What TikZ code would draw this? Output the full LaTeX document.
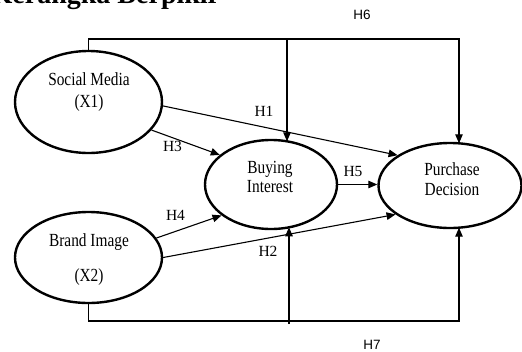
\documentclass[tikz,border=0pt]{standalone}
\usepackage{fontspec}
\setmainfont{Liberation Serif}
\newfontfamily\ellfont{Liberation Serif}[FakeStretch=0.83]
\newfontfamily\sanslab{Liberation Sans}
\usetikzlibrary{arrows.meta,shapes.geometric}
\begin{document}
\begin{tikzpicture}[x=1pt,y=-1pt,
 latent/.style={ellipse,draw,line width=2.4pt,inner sep=0pt},
 conn/.style={line width=1.1pt},
 arr/.style={conn,-{Triangle[length=9pt,width=7.5pt]}},
 etext/.style={anchor=base,inner sep=0pt,font=\ellfont\fontsize{18.5}{20}\selectfont},
 hlab/.style={anchor=base,inner sep=0pt,font=\fontsize{15.5}{17}\selectfont},
 slab/.style={anchor=base,inner sep=0pt,font=\sanslab\fontsize{13.5}{15}\selectfont}]
\useasboundingbox (0,0) rectangle (522,351);
\clip (0,0) rectangle (522,351);

% heading (clipped at top)
\node[anchor=base west,inner sep=0pt,font=\bfseries\fontsize{28}{30}\selectfont] (title) at (-9.5,3) {Kerangka Berpikir};

% latent variables
\node[latent,minimum width=147pt,minimum height=102pt] (sm) at (88.5,102) {};
\node[latent,minimum width=147pt,minimum height=91pt] (bi) at (88.5,257.5) {};
\node[latent,minimum width=132pt,minimum height=89pt] (buy) at (271,184.5) {};
\node[latent,minimum width=143pt,minimum height=85pt] (pd) at (450,185.5) {};

% texts inside
\node[etext] (sm1) at (89,85.7) {Social Media};
\node[etext] (sm2) at (89,107) {(X1)};
\node[etext] (bi1) at (89,246.7) {Brand Image};
\node[etext] (bi2) at (89,281) {(X2)};
\node[etext] (buy1) at (270,173.3) {Buying};
\node[etext] (buy2) at (270,192.5) {Interest};
\node[etext] (pd1) at (452,175) {Purchase};
\node[etext] (pd2) at (452,195) {Decision};

% helper coordinates
\coordinate (t6) at (88.5,39);
\coordinate (t6b) at (287,39);
\coordinate (buytop) at (287,141.3);
\coordinate (pdtop) at (459,143.3);
\coordinate (b7) at (88.5,321);
\coordinate (b7u) at (289,324);
\coordinate (buybot) at (289,227.3);
\coordinate (pdbot) at (459,227.7);

% H6 and H7 paths
\draw[arr] (sm.north) -- (t6) -| (pdtop);
\draw[arr] (t6b) -- (buytop);
\draw[arr] (bi.south) -- (b7) -| (pdbot);
\draw[arr] (b7u) -- (buybot);

% direct paths
\draw[arr] (sm.-3) -- (pd.150);
\draw[arr] (sm.-24) -- (buy.150);
\draw[arr] (bi.16) -- (buy.212);
\draw[arr] (bi.east) -- (pd.208);
\draw[arr] (buy.east) -- (buy.east -| pd.west);

% labels
\node[hlab] (h1) at (264,116.7) {H1};
\node[hlab] (h2) at (268,256.7) {H2};
\node[hlab] (h3) at (172.5,151.7) {H3};
\node[hlab] (h4) at (175.5,220) {H4};
\node[hlab] (h5) at (353,176.7) {H5};
\node[slab] (h6) at (362,19.3) {H6};
\node[slab] (h7) at (372,349) {H7};
\end{tikzpicture}
\end{document}
